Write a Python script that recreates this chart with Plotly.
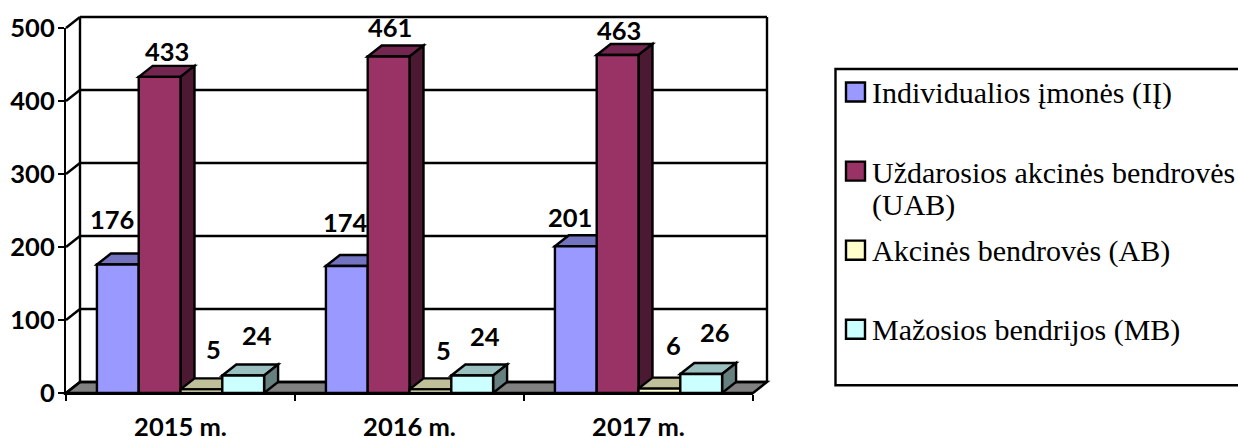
import plotly.graph_objects as go

# ---- data ----
categories = ["2015 m.", "2016 m.", "2017 m."]
series_names = ["Individualios įmonės (IĮ)", "Uždarosios akcinės bendrovės",
                "Akcinės bendrovės (AB)", "Mažosios bendrijos (MB)"]
ii_values = [176, 174, 201]
uab_values = [433, 461, 463]
ab_values = [5, 5, 6]
mb_values = [24, 24, 26]
y_ticks = [0, 100, 200, 300, 400, 500]

# ---- style / layout ----
W, H = 1238, 437
L, R, T, B = 66, 753, 28, 392.7
PW, PH = R - L, B - T
DX_PX, DY_PX = 14, 11
BARGAP = 0.27
LW = 2.4
fronts = ["#9999FF", "#993366", "#FFFFCC", "#CCFFFF"]
tops = ["#7373BF", "#732650", "#BFBF99", "#99BFBF"]
sides = ["#4C4C80", "#4C1933", "#808066", "#668080"]
LABEL_FONT = dict(family="Lato", size=25.5, color="black", weight="bold")
LEGEND_FONT = dict(family="'Liberation Serif', 'Times New Roman', serif", size=30, color="black")
all_values = [ii_values, uab_values, ab_values, mb_values]
# pixel nudges of each value label relative to the top centre of its bar
label_shift = [
    [(-6, 46), (-1, 44), (-6, 29)],
    [(7, 26), (1, 29), (1, 25)],
    [(12, 40), (13, 39), (14, 44)],
    [(14, 40), (13, 39), (14, 42)],
]


def px(x):
    return (x - L) / PW


def py(y):
    return (B - y) / PH


line = dict(color="black", width=LW)
shapes = []
annotations = []

# floor and walls (pinned to the plot box, extending beyond the axes ranges)
dxp, dyp = DX_PX / PW, DY_PX / PH
shapes.append(dict(type="path", xref="paper", yref="paper", layer="below",
                   path=f"M 0 0 L {dxp} {dyp} L {1 + dxp} {dyp} L 1 0 Z",
                   fillcolor="#808080", line=line))
shapes.append(dict(type="line", xref="paper", yref="paper", layer="below",
                   x0=dxp, x1=dxp, y0=dyp, y1=1 + dyp, line=line))
shapes.append(dict(type="line", xref="paper", yref="paper", layer="below",
                   x0=1 + dxp, x1=1 + dxp, y0=dyp, y1=1 + dyp, line=line))
for v in y_ticks:
    yp = v / y_ticks[-1]
    shapes.append(dict(type="line", xref="paper", yref="paper", layer="below",
                       x0=0, x1=dxp, y0=yp, y1=yp + dyp, line=line))
    shapes.append(dict(type="line", xref="paper", yref="paper", layer="below",
                       x0=dxp, x1=1 + dxp, y0=yp + dyp, y1=yp + dyp, line=line))

# depth faces of the bars, derived from the values
bar_w = (1 - BARGAP) / 4
dx = DX_PX / PW * len(categories)
dy = DY_PX / PH * y_ticks[-1]
fig = go.Figure()
for s, (name, vals) in enumerate(zip(series_names, all_values)):
    for c, v in enumerate(vals):
        x0 = c + BARGAP / 2 + s * bar_w
        x1 = x0 + bar_w
        shapes.append(dict(type="path", xref="x", yref="y", layer="below",
                           path=f"M {x0} {v} L {x0 + dx} {v + dy} L {x1 + dx} {v + dy} L {x1} {v} Z",
                           fillcolor=tops[s], line=line))
        shapes.append(dict(type="path", xref="x", yref="y", layer="below",
                           path=f"M {x1} 0 L {x1 + dx} {dy} L {x1 + dx} {v + dy} L {x1} {v} Z",
                           fillcolor=sides[s], line=line))
        sx, sy = label_shift[s][c]
        annotations.append(dict(x=(x0 + x1) / 2, y=v, xref="x", yref="y", text=str(v),
                                showarrow=False, xshift=sx, yshift=sy, font=LABEL_FONT))
    fig.add_trace(go.Bar(x=[c + 0.5 for c in range(len(categories))], y=vals, name=name,
                         marker=dict(color=fronts[s], line=dict(color="black", width=LW)),
                         cliponaxis=False, showlegend=False))

# legend box
shapes.append(dict(type="rect", xref="paper", yref="paper", x0=px(835.5), x1=px(1245),
                   y0=py(385), y1=py(69), line=line, fillcolor="white", layer="above"))
rows = [92, 171, 250, 329]
for i, name in enumerate(series_names):
    yc = rows[i]
    shapes.append(dict(type="rect", xref="paper", yref="paper", x0=px(846), x1=px(865),
                       y0=py(yc + 9.5), y1=py(yc - 9.5), fillcolor=fronts[i], line=line, layer="above"))
    annotations.append(dict(xref="paper", yref="paper", x=px(870), y=py(yc + 1), text=name,
                            xanchor="left", yanchor="middle", showarrow=False, font=LEGEND_FONT))
annotations.append(dict(xref="paper", yref="paper", x=px(870), y=py(205), text="(UAB)",
                        xanchor="left", yanchor="middle", showarrow=False, font=LEGEND_FONT))

fig.update_layout(
    width=W, height=H, autosize=False,
    margin=dict(l=L, r=W - R, t=T, b=H - B, pad=0, autoexpand=False),
    paper_bgcolor="white", plot_bgcolor="rgba(0,0,0,0)",
    barmode="group", bargap=BARGAP, bargroupgap=0,
    shapes=shapes, annotations=annotations,
    xaxis=dict(range=[0, 3], tickvals=[0.5, 1.5, 2.5], ticktext=categories,
               ticks="", showgrid=False, zeroline=False, showline=True,
               linecolor="black", linewidth=LW, tickfont=LABEL_FONT, ticklabelstandoff=10,
               minor=dict(tickvals=[0, 1, 2, 3], ticks="outside", ticklen=6,
                          tickcolor="black", tickwidth=LW, showgrid=False)),
    yaxis=dict(range=[0, 500], tickvals=y_ticks, ticks="outside", ticklen=6, tickwidth=LW,
               tickcolor="black", showgrid=False, zeroline=False, showline=True,
               linecolor="black", linewidth=LW, tickfont=LABEL_FONT, ticklabelstandoff=-2),
    showlegend=False,
)
fig.write_html("out.html", config={"displayModeBar": False, "responsive": False},
               post_script="document.body.style.margin='0';document.body.style.overflow='hidden';")
